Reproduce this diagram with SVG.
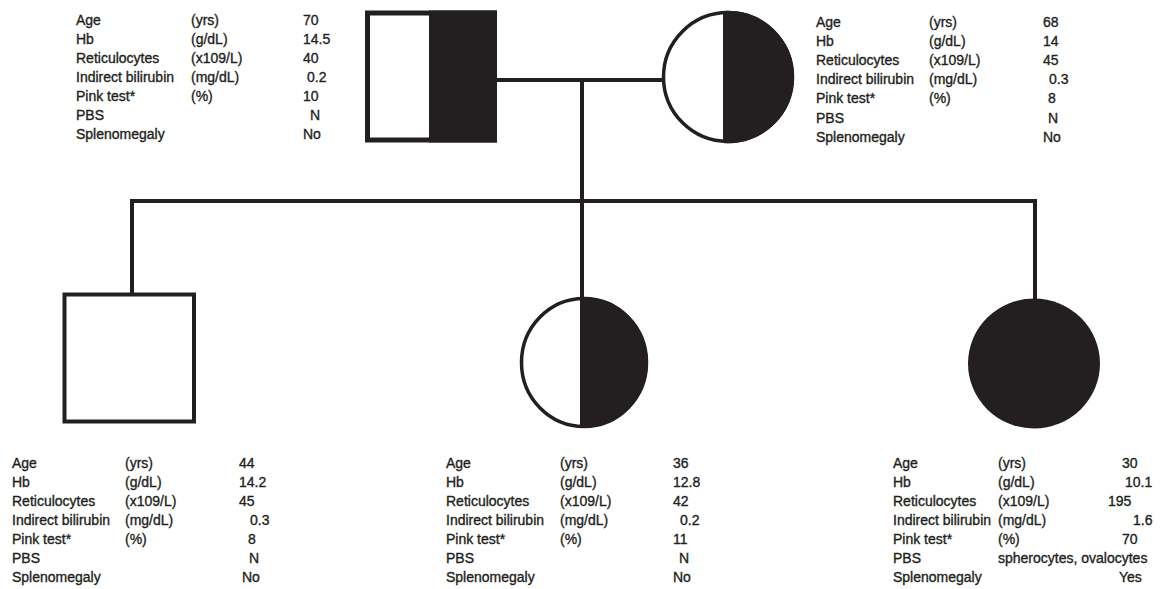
<svg xmlns="http://www.w3.org/2000/svg" width="1160" height="589" viewBox="0 0 1160 589">
<style>
text{font-family:"Liberation Sans",Arial,sans-serif;font-size:14px;fill:#231f20;stroke:#231f20;stroke-width:0.35}
.ln{stroke:#231f20;fill:none}
.blk{fill:#231f20}
</style>
<rect width="1160" height="589" fill="#fff"/>
<g id="connectors" class="ln">
<line x1="496" y1="80" x2="663" y2="80" stroke-width="4"/>
<line x1="582" y1="80" x2="582" y2="298" stroke-width="4"/>
<polyline points="132,294 132,201 1035,201 1035,300" stroke-width="4"/>
</g>
<g id="father">
<rect x="429" y="10.5" width="68" height="132" class="blk"/>
<rect x="367.5" y="13" width="127" height="127" class="ln" stroke-width="5"/>
</g>
<g id="mother">
<circle cx="728" cy="77" r="64.5" fill="#fff" class="ln" stroke-width="3.5"/>
<path d="M723,11 A66,66 0 0 1 794,77 A66,66 0 0 1 723,143 Z" class="blk"/>
</g>
<g id="son">
<rect x="64.5" y="294.5" width="129.5" height="127" class="ln" stroke-width="4"/>
</g>
<g id="daughter1">
<ellipse cx="584" cy="362.5" rx="62.5" ry="64" fill="#fff" class="ln" stroke-width="3.5"/>
<path d="M580,297 A68,65.5 0 0 1 648,362.5 A68,65.5 0 0 1 580,428 Z" class="blk"/>
</g>
<g id="daughter2">
<ellipse cx="1034" cy="363.5" rx="66" ry="65" class="blk"/>
</g>
<g id="data-father">
<text x="76" y="24.5">Age</text><text x="191" y="24.5">(yrs)</text><text x="303" y="24.5">70</text>
<text x="76" y="43.6">Hb</text><text x="191" y="43.6">(g/dL)</text><text x="303" y="43.6">14.5</text>
<text x="76" y="62.7">Reticulocytes</text><text x="191" y="62.7">(x109/L)</text><text x="303" y="62.7">40</text>
<text x="76" y="81.8">Indirect bilirubin</text><text x="191" y="81.8">(mg/dL)</text><text x="307" y="81.8">0.2</text>
<text x="76" y="100.9">Pink test*</text><text x="191" y="100.9">(%)</text><text x="303" y="100.9">10</text>
<text x="76" y="120">PBS</text><text x="310" y="120">N</text>
<text x="76" y="139.1">Splenomegaly</text><text x="303" y="139.1">No</text>
</g>
<g id="data-mother">
<text x="816" y="27">Age</text><text x="929" y="27">(yrs)</text><text x="1043" y="27">68</text>
<text x="816" y="46.1">Hb</text><text x="929" y="46.1">(g/dL)</text><text x="1043" y="46.1">14</text>
<text x="816" y="65.2">Reticulocytes</text><text x="929" y="65.2">(x109/L)</text><text x="1043" y="65.2">45</text>
<text x="816" y="84.3">Indirect bilirubin</text><text x="929" y="84.3">(mg/dL)</text><text x="1049" y="84.3">0.3</text>
<text x="816" y="103.4">Pink test*</text><text x="929" y="103.4">(%)</text><text x="1048" y="103.4">8</text>
<text x="816" y="122.5">PBS</text><text x="1048" y="122.5">N</text>
<text x="816" y="141.6">Splenomegaly</text><text x="1043" y="141.6">No</text>
</g>
<g id="data-son">
<text x="12" y="467.7">Age</text><text x="125" y="467.7">(yrs)</text><text x="239" y="467.7">44</text>
<text x="12" y="486.8">Hb</text><text x="125" y="486.8">(g/dL)</text><text x="239" y="486.8">14.2</text>
<text x="12" y="505.9">Reticulocytes</text><text x="125" y="505.9">(x109/L)</text><text x="239" y="505.9">45</text>
<text x="12" y="525">Indirect bilirubin</text><text x="125" y="525">(mg/dL)</text><text x="250" y="525">0.3</text>
<text x="12" y="544.1">Pink test*</text><text x="125" y="544.1">(%)</text><text x="248" y="544.1">8</text>
<text x="12" y="563.2">PBS</text><text x="249" y="563.2">N</text>
<text x="12" y="582.3">Splenomegaly</text><text x="242" y="582.3">No</text>
</g>
<g id="data-daughter1">
<text x="446" y="467.7">Age</text><text x="560" y="467.7">(yrs)</text><text x="673" y="467.7">36</text>
<text x="446" y="486.8">Hb</text><text x="560" y="486.8">(g/dL)</text><text x="673" y="486.8">12.8</text>
<text x="446" y="505.9">Reticulocytes</text><text x="560" y="505.9">(x109/L)</text><text x="673" y="505.9">42</text>
<text x="446" y="525">Indirect bilirubin</text><text x="560" y="525">(mg/dL)</text><text x="680" y="525">0.2</text>
<text x="446" y="544.1">Pink test*</text><text x="560" y="544.1">(%)</text><text x="673" y="544.1">11</text>
<text x="446" y="563.2">PBS</text><text x="679" y="563.2">N</text>
<text x="446" y="582.3">Splenomegaly</text><text x="673" y="582.3">No</text>
</g>
<g id="data-daughter2">
<text x="893" y="467.7">Age</text><text x="998" y="467.7">(yrs)</text><text x="1122" y="467.7">30</text>
<text x="893" y="486.8">Hb</text><text x="998" y="486.8">(g/dL)</text><text x="1125" y="486.8">10.1</text>
<text x="893" y="505.9">Reticulocytes</text><text x="998" y="505.9">(x109/L)</text><text x="1108" y="505.9">195</text>
<text x="893" y="525">Indirect bilirubin</text><text x="998" y="525">(mg/dL)</text><text x="1133" y="525">1.6</text>
<text x="893" y="544.1">Pink test*</text><text x="998" y="544.1">(%)</text><text x="1122" y="544.1">70</text>
<text x="893" y="563.2">PBS</text><text x="998" y="563.2">spherocytes, ovalocytes</text>
<text x="893" y="582.3">Splenomegaly</text><text x="1119" y="582.3">Yes</text>
</g>
</svg>
